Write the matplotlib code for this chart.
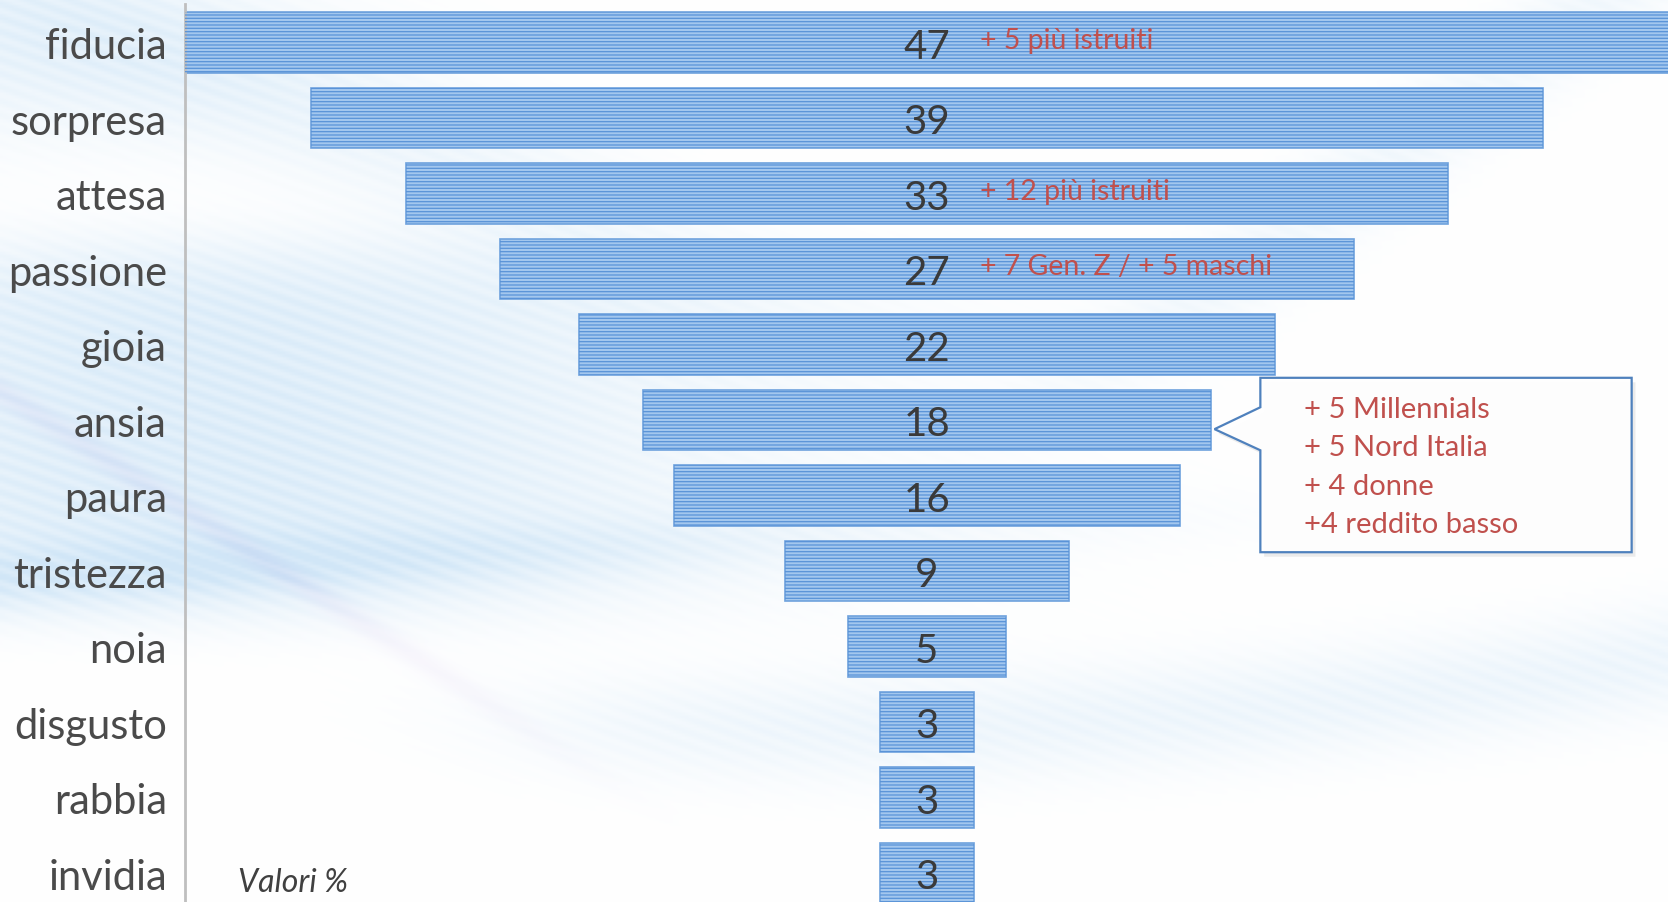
import matplotlib.pyplot as plt
from matplotlib.patches import Polygon
import numpy as np

plt.rcParams['font.family'] = ['Lato', 'DejaVu Sans']
plt.rcParams['hatch.linewidth'] = 0.9

# data
labels = ['fiducia', 'sorpresa', 'attesa', 'passione', 'gioia', 'ansia',
          'paura', 'tristezza', 'noia', 'disgusto', 'rabbia', 'invidia']
values = np.array([47, 39, 33, 27, 22, 18, 16, 9, 5, 3, 3, 3])
note_rows = [0, 2, 3]
note_texts = ['+ 5 più istruiti', '+ 12 più istruiti', '+ 7 Gen. Z / + 5 maschi']
callout_row = 5
callout_lines = ['+ 5 Millennials', '+ 5 Nord Italia', '+ 4 donne', '+4 reddito basso']

W_PX, H_PX = 1668, 903
fig = plt.figure(figsize=(W_PX / 100, H_PX / 100), dpi=100)


def smooth_step(v, edge, width):
    return 1 / (1 + np.exp(-(v - edge) / width))


# soft decorative background
bg = fig.add_axes([0, 0, 1, 1])
bg.axis('off')
xx, yy = np.meshgrid(np.linspace(0, W_PX, 560), np.linspace(0, H_PX, 300))
tint = np.zeros_like(xx)
tint += 0.50 * np.exp(-((xx - 200) / 520) ** 2 - ((yy - 430) / 190) ** 6)
tint += 0.30 * np.exp(-((yy - (580 - 0.05 * xx)) / 30) ** 2) * np.exp(-(xx / 900) ** 2)
tint += 0.25 * np.exp(-((yy - (730 - 0.00009 * (xx - 800) ** 2)) / 55) ** 2) * smooth_step(xx, 550, 80)
tint += 0.25 * np.exp(-((yy - (0.40 * xx - 20)) / 80) ** 2) * (1 - smooth_step(xx, 650, 80))
tint += 0.20 * np.exp(-((yy - (1200 - 0.75 * xx)) / 60) ** 2) * (1 - smooth_step(yy, 380, 40))
tint += 0.25 * np.exp(-((xx / 300) ** 2) - ((yy - 60) / 90) ** 2)
streak = 0.85 + 0.15 * np.sin(2 * np.pi * (yy - 0.35 * xx) / 14)
tint = np.clip(tint * streak, 0, 0.6)
base = np.array([0.70, 0.84, 0.95])
img = 1 - tint[..., None] * (1 - base)
# faint lavender streak
lav = 0.10 * np.exp(-((yy - (393 + 0.64 * xx)) / 14) ** 2) * (1 - smooth_step(xx, 520, 60))
img = img - lav[..., None] * np.array([0.25, 0.35, 0.1])
bg.imshow(np.clip(img, 0, 1), extent=[0, 1, 0, 1], aspect='auto', zorder=0)

# funnel axes
ax = fig.add_axes([185 / W_PX, 0, 1 - 185 / W_PX, (H_PX - 5) / H_PX])
ax.patch.set_alpha(0)
rows = np.arange(len(values))
ax.barh(rows, values, left=-values / 2, height=0.8, color='#A3C7EE',
        edgecolor='#6FA2DD', linewidth=1.2, zorder=2)
ax.barh(rows, values, left=-values / 2, height=0.8, color='none',
        edgecolor='#5993D8', hatch='-----', linewidth=0, zorder=3)

for r, v in zip(rows, values):
    ax.text(0, r + 0.05, str(v), ha='center', va='center', fontsize=29,
            color='#3A3A3A', zorder=5)

for r, t in zip(note_rows, note_texts):
    ax.text(1.68, r - 0.04, t, ha='left', va='center', fontsize=20.5,
            color='#C0504D', zorder=5)

# callout next to the ansia bar
tip = values[callout_row] / 2 + 0.1
bx0, bx1 = tip + 1.45, tip + 13.2
by0, by1 = callout_row - 0.56, callout_row + 1.75
pts = [(bx0, by0), (bx1, by0), (bx1, by1), (bx0, by1),
       (bx0, callout_row + 0.40), (tip, callout_row + 0.12), (bx0, callout_row - 0.17)]
shadow = Polygon([(x + 0.12, y + 0.06) for x, y in pts], closed=True,
                 facecolor='#9a9a9a', edgecolor='none', alpha=0.18, zorder=3)
ax.add_patch(shadow)
ax.add_patch(Polygon(pts, closed=True, facecolor=(1, 1, 1, 0.93),
                     edgecolor='#4F81BD', linewidth=1.6, zorder=4))
for i, t in enumerate(callout_lines):
    ax.text(bx0 + 1.39, callout_row - 0.145 + i * 0.508, t, ha='left', va='center',
            fontsize=21, color='#C0504D', zorder=5)

ax.text(-21.8, 11.12, 'Valori %', ha='left', va='center', fontsize=23,
        style='italic', color='#404040', zorder=5)

ax.set_xlim(-23.48, 23.45)
ax.set_ylim(11.383, -0.511)
ax.set_yticks(rows)
ax.set_yticklabels(labels, fontsize=30, color='#4A4A4A')
ax.tick_params(axis='y', length=0, pad=13)
ax.set_xticks([])
for s in ['top', 'right', 'bottom']:
    ax.spines[s].set_visible(False)
ax.spines['left'].set_color('#BFBFBF')
ax.spines['left'].set_linewidth(2)

fig.savefig('out.png', dpi=100)
